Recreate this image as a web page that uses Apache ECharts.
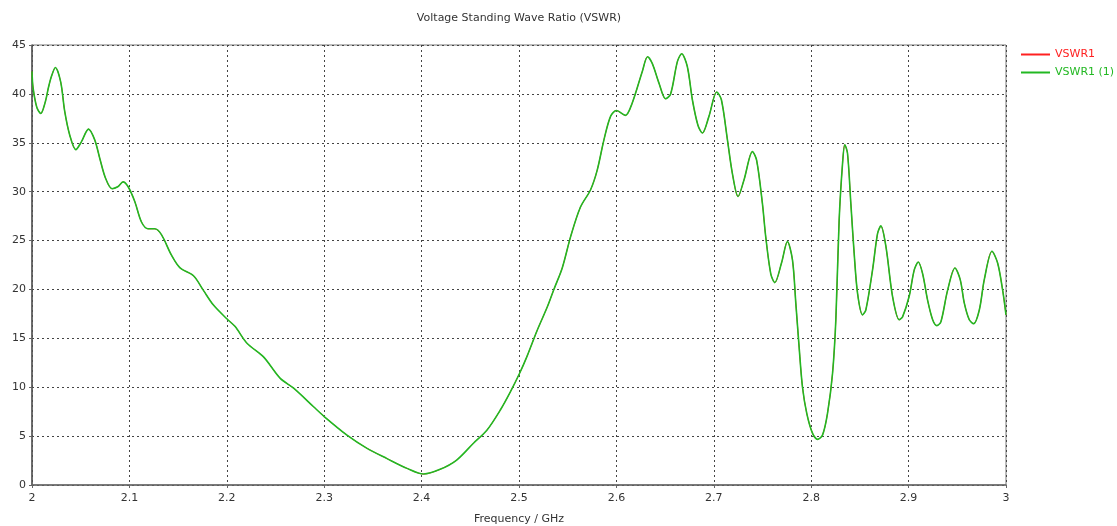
<!DOCTYPE html>
<html>
<head>
<meta charset="utf-8">
<script src="https://cdn.jsdelivr.net/npm/echarts@6/dist/echarts.min.js"></script>
<style>
  html, body { margin: 0; padding: 0; background: #fff; }
  #chart { width: 1117px; height: 526px; }
</style>
</head>
<body>
<div id="chart"></div>
<script>
// Frequency samples (GHz)
const freq = [
  2.000, 2.001, 2.005, 2.009, 2.0137, 2.017, 2.020, 2.024, 2.0295, 2.0336,
  2.0387, 2.045, 2.0507, 2.058, 2.0644, 2.0696, 2.0754, 2.0822, 2.088, 2.0935,
  2.0987, 2.1055, 2.1124, 2.1192, 2.126, 2.1329, 2.1432, 2.152, 2.1658, 2.176,
  2.1863, 2.200, 2.2086, 2.2207, 2.2377, 2.2549, 2.2686, 2.2891, 2.300, 2.3234,
  2.344, 2.3645, 2.385, 2.402, 2.419, 2.436, 2.4535, 2.467, 2.481, 2.491,
  2.5005, 2.508, 2.5186, 2.529, 2.5358, 2.5444, 2.553, 2.563, 2.5735, 2.5803,
  2.5872, 2.594, 2.600, 2.6092, 2.616, 2.6266, 2.632, 2.6369, 2.6437, 2.6505,
  2.6557, 2.6626, 2.667, 2.6728, 2.678, 2.6837, 2.6883, 2.695, 2.703, 2.7078,
  2.714, 2.719, 2.7249, 2.731, 2.7397, 2.744, 2.7499, 2.7533, 2.7585, 2.7626,
  2.7695, 2.7756, 2.7808, 2.7842, 2.7876, 2.791, 2.7955, 2.8013, 2.8065, 2.8116,
  2.8167, 2.8219, 2.8253, 2.8287, 2.8322, 2.8345, 2.8373, 2.8407, 2.8441, 2.8476,
  2.8527, 2.8561, 2.863, 2.8681, 2.8715, 2.8767, 2.8835, 2.8904, 2.8938, 2.9006,
  2.9058, 2.9099, 2.9144, 2.9195, 2.9247, 2.929, 2.9332, 2.940, 2.9476, 2.953,
  2.9572, 2.9623, 2.9668, 2.9726, 2.9777, 2.9856, 2.9914, 2.9966, 3.000
];

// VSWR at each frequency sample
const vswr = [
  42.3, 40.7, 38.6, 38.0, 39.2, 40.7, 41.8, 42.7, 41.2, 38.2,
  35.8, 34.3, 35.1, 36.4, 35.3, 33.4, 31.4, 30.3, 30.5, 31.0,
  30.5, 29.0, 26.9, 26.2, 26.2, 25.6, 23.5, 22.2, 21.4, 19.9,
  18.4, 17.0, 16.2, 14.5, 13.1, 10.9, 9.9, 8.0, 7.0, 5.1,
  3.75, 2.7, 1.7, 1.12, 1.6, 2.55, 4.3, 5.6, 7.7, 9.5,
  11.4, 13.1, 15.8, 18.2, 20.0, 22.2, 25.4, 28.4, 30.2, 32.2,
  35.3, 37.7, 38.3, 37.8, 39.0, 42.3, 43.8, 43.1, 41.1, 39.5,
  40.0, 43.3, 44.1, 42.8, 39.4, 36.8, 36.0, 37.7, 40.2, 39.4,
  35.3, 31.9, 29.5, 31.2, 34.1, 33.2, 28.8, 25.4, 21.6, 20.7,
  22.7, 24.9, 23.0, 18.6, 14.1, 10.05, 7.3, 5.3, 4.67, 5.1,
  7.3, 11.4, 16.9, 27.1, 32.9, 34.8, 33.9, 28.8, 23.7, 19.6,
  17.4, 17.9, 22.0, 25.7, 26.5, 24.4, 19.3, 16.9, 17.2, 19.3,
  22.0, 22.8, 21.6, 18.9, 16.9, 16.3, 16.7, 19.9, 22.2, 21.0,
  18.6, 16.9, 16.5, 17.9, 21.0, 23.9, 22.7, 19.9, 17.4
];

const seriesNames = ['VSWR1', 'VSWR1 (1)'];
const seriesColors = ['#ff2020', '#22b822'];
const seriesWidths = [1, 1.6];

const points = freq.map((f, i) => [f, vswr[i]]);
const FONT = 'DejaVu Sans';

const chart = echarts.init(document.getElementById('chart'), null, { renderer: 'canvas' });

chart.setOption({
  animation: false,
  backgroundColor: '#ffffff',
  title: {
    text: 'Voltage Standing Wave Ratio (VSWR)',
    left: 519,
    textAlign: 'center',
    top: 13,
    padding: 0,
    textStyle: { fontFamily: FONT, fontSize: 11, fontWeight: 'normal', color: '#333' }
  },
  legend: {
    orient: 'vertical',
    left: 1021,
    top: 49,
    padding: 0,
    itemWidth: 29,
    itemHeight: 2,
    itemGap: 7,
    icon: 'rect',
    textStyle: { fontFamily: FONT, fontSize: 11, padding: [0, 0, 0, 0] },
    data: seriesNames.map((n, i) => ({ name: n, textStyle: { color: seriesColors[i] } }))
  },
  grid: {
    left: 32, right: 111, top: 45, bottom: 41,
    containLabel: false,
    outerBoundsMode: 'none',
    show: true, borderColor: '#777', borderWidth: 1
  },
  xAxis: {
    type: 'value',
    min: 2, max: 3, interval: 0.1,
    name: 'Frequency / GHz',
    nameLocation: 'middle',
    nameGap: 29,
    nameTextStyle: { fontFamily: FONT, fontSize: 11, color: '#333' },
    axisLine: { onZero: false, lineStyle: { color: '#666', width: 1.5 } },
    axisTick: { show: true, length: 3, lineStyle: { color: '#666' } },
    axisLabel: {
      fontFamily: FONT, fontSize: 11, color: '#333', margin: 8,
      formatter: v => String(Math.round(v * 10) / 10)
    },
    splitLine: { show: true, lineStyle: { color: '#444', type: [2, 3], width: 1 } }
  },
  yAxis: {
    type: 'value',
    min: 0, max: 45, interval: 5,
    axisLine: { show: true, lineStyle: { color: '#555', width: 1.5 } },
    axisTick: { show: true, length: 3, lineStyle: { color: '#666' } },
    axisLabel: { fontFamily: FONT, fontSize: 11, color: '#333', margin: 6 },
    splitLine: { show: true, lineStyle: { color: '#444', type: [2, 3], width: 1 } }
  },
  series: seriesNames.map((n, i) => ({
    name: n,
    type: 'line',
    data: points,
    showSymbol: false,
    smooth: 0.3,
    lineStyle: { color: seriesColors[i], width: seriesWidths[i] },
    itemStyle: { color: seriesColors[i] },
    z: 2 + i
  }))
});
</script>
</body>
</html>
